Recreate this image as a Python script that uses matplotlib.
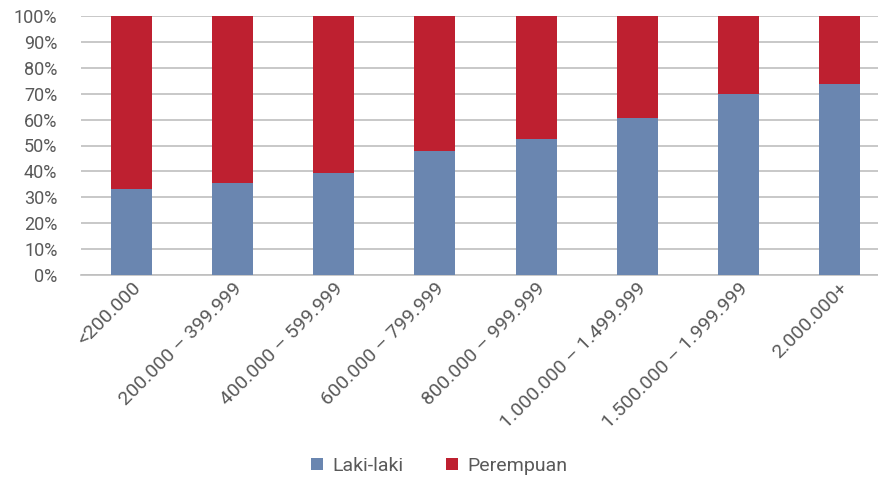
import matplotlib
matplotlib.use('Agg')
import numpy as np
import matplotlib.pyplot as plt
from matplotlib.ticker import PercentFormatter

# data
categories = ['<200.000', '200.000 – 399.999', '400.000 – 599.999', '600.000 – 799.999',
              '800.000 – 999.999', '1.000.000 – 1.499.999', '1.500.000 – 1.999.999', '2.000.000+']
laki = [33.2, 35.6, 39.4, 47.9, 52.5, 60.6, 69.9, 73.8]
perempuan = [100 - v for v in laki]

blue = '#6A86B0'
red = '#BE2030'
text_col = '#595959'
grid_col = '#BFBFBF'

plt.rcParams['font.family'] = ['Roboto', 'DejaVu Sans']

fig = plt.figure(figsize=(8.79, 4.79), dpi=100)
ax = fig.add_axes([81 / 879, 1 - 275 / 479, 1 - 81 / 879, (275 - 16) / 479])

x = np.arange(len(categories))
ax.bar(x, laki, width=0.405, color=blue, label='Laki-laki', zorder=3)
ax.bar(x, perempuan, width=0.405, bottom=laki, color=red, label='Perempuan', zorder=3)

ax.set_ylim(0, 100)
ax.set_xlim(-0.5, 7.5 - 11 / 101)
ax.set_yticks(np.arange(0, 101, 10))
ax.yaxis.set_major_formatter(PercentFormatter(decimals=0))
ax.grid(axis='y', color=grid_col, linewidth=1.2, zorder=0)
for s in ['top', 'right', 'left']:
    ax.spines[s].set_visible(False)
ax.spines['bottom'].set_color(grid_col)
ax.spines['bottom'].set_linewidth(1.2)
ax.tick_params(axis='both', length=0, colors=text_col)
ax.tick_params(axis='y', pad=17, labelsize=13)
ax.set_xticks(x)
ax.set_xticklabels(categories, rotation=45, ha='right', rotation_mode='anchor')
ax.tick_params(axis='x', pad=3, labelsize=14)

leg = fig.legend(loc='center', bbox_to_anchor=(0.5, 1 - 466 / 479), ncol=2, frameon=False,
                 fontsize=14, handlelength=0.6, handleheight=0.6, columnspacing=2.2,
                 handletextpad=0.5)
for t in leg.get_texts():
    t.set_color(text_col)

fig.savefig('out.png', dpi=100)
